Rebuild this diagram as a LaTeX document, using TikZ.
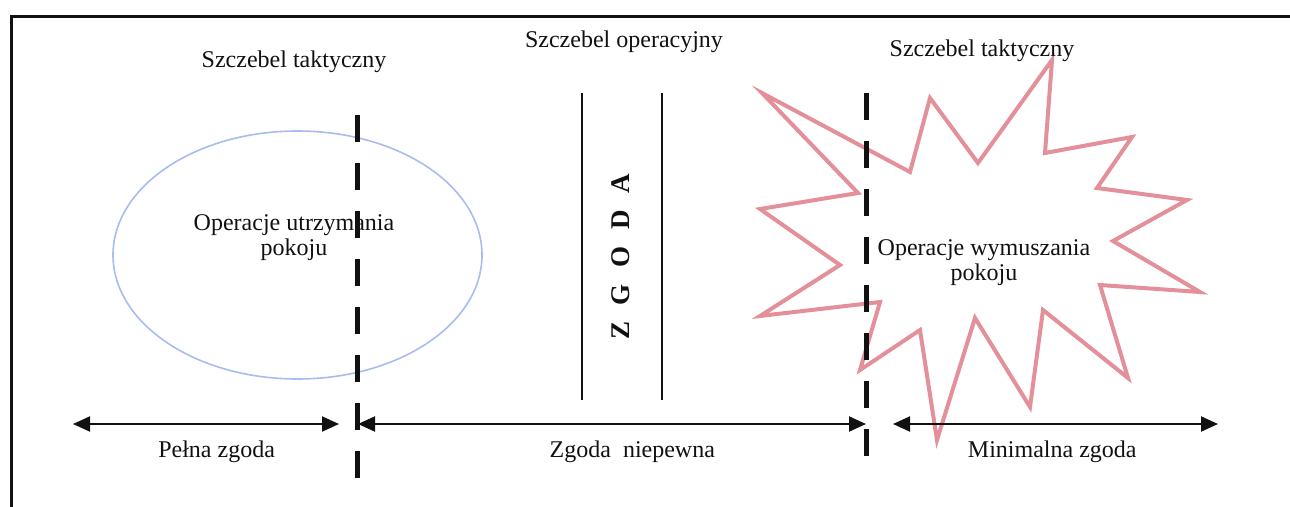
\documentclass[tikz,border=0pt]{standalone}
\usepackage{fontspec}
\setmainfont{Liberation Serif}
\usetikzlibrary{arrows.meta, positioning, calc}
\definecolor{cpink}{HTML}{E3909A}
\definecolor{cblue}{HTML}{A8BCF0}
\definecolor{cblack}{HTML}{111111}
\tikzset{
  every picture/.style={font=\fontsize{24}{25}\selectfont, line width=2pt},
  span/.style={{Triangle[length=17pt, width=15pt]}-{Triangle[length=17pt, width=15pt]}, draw=cblack, line width=2pt},
  divider/.style={draw=cblack, line width=5pt, dash pattern=on 27pt off 21pt},
  bar/.style={draw=cblack, line width=2pt},
  lbl/.style={inner sep=0pt, align=center, text=cblack},
}

\begin{document}
\begin{tikzpicture}[x=1pt, y=-1pt]
  \useasboundingbox (0,0) rectangle (1290,506);
  \clip (0,0) rectangle (1290,506);
  % frame (open at the bottom and right)
  \draw[cblack, line width=3pt] (11,530) -- (11,16) -- (1295,16);
  % peacekeeping ellipse and peace-enforcement star
  \draw[cblue, line width=1.6pt] (297.5,255) ellipse [x radius=184.5, y radius=124];
  \draw[cpink, line width=4pt, miter limit=20] (762,93) -- (910,172) -- (930,98) -- (978,163)
    -- (1052,60) -- (1045,153) -- (1132,137) -- (1097,188) -- (1187,200) -- (1113,241)
    -- (1200,292) -- (1100,285) -- (1128,378) -- (1043,310) -- (1030,407) -- (975,318)
    -- (937,440) -- (920,330) -- (860,370) -- (880,302) -- (760,316) -- (840,265)
    -- (760,209) -- (858,193) -- cycle;
  % level headers
  \node[lbl] (tacl) at (294,62) {Szczebel taktyczny};
  \node[lbl] (oper) at (624,42) {Szczebel operacyjny};
  \node[lbl] (tacr) at (982,51) {Szczebel taktyczny};
  % consent band
  \coordinate (b1t) at (582,93);  \coordinate (b1b) at (582,400);
  \coordinate (b2t) at (662,93);  \coordinate (b2b) at (662,400);
  \draw[bar] (b1t) -- (b1b);
  \draw[bar] (b2t) -- (b2b);
  \node[lbl, rotate=90, font=\fontsize{27}{28}\selectfont\bfseries] (zgoda) at (621,257)
    {Z\hspace{0.62em}G\hspace{0.62em}O\hspace{0.62em}D\hspace{0.62em}A};
  % dividing lines
  \coordinate (d1t) at (357,115);  \coordinate (d1b) at (357,482);
  \coordinate (d2t) at (866,93);   \coordinate (d2b) at (866,460);
  \draw[divider] (d1t) -- (d1b);
  \draw[divider] (d2t) -- (d2b);
  % operation names
  \node[lbl] (keep) at (294,238) {Operacje utrzymania\\pokoju};
  \node[lbl] (force) at (984,263) {Operacje wymuszania\\pokoju};
  % consent ranges
  \coordinate (a1l) at (73,424);   \coordinate (a1r) at (339,424);
  \coordinate (a2l) at (358,424);  \coordinate (a2r) at (866,424);
  \coordinate (a3l) at (893,424);  \coordinate (a3r) at (1218,424);
  \draw[span] (a1l) -- (a1r);
  \draw[span] (a2l) -- (a2r);
  \draw[span] (a3l) -- (a3r);
  \node[lbl, below=16pt of $(a1l)!0.54!(a1r)$] (full) {Pełna zgoda};
  \node[lbl, below=16pt of $(a2l)!0.54!(a2r)$] (unsure) {Zgoda\ \ niepewna};
  \node[lbl, below=16pt of $(a3l)!0.49!(a3r)$] (minimal) {Minimalna zgoda};
\end{tikzpicture}
\end{document}
